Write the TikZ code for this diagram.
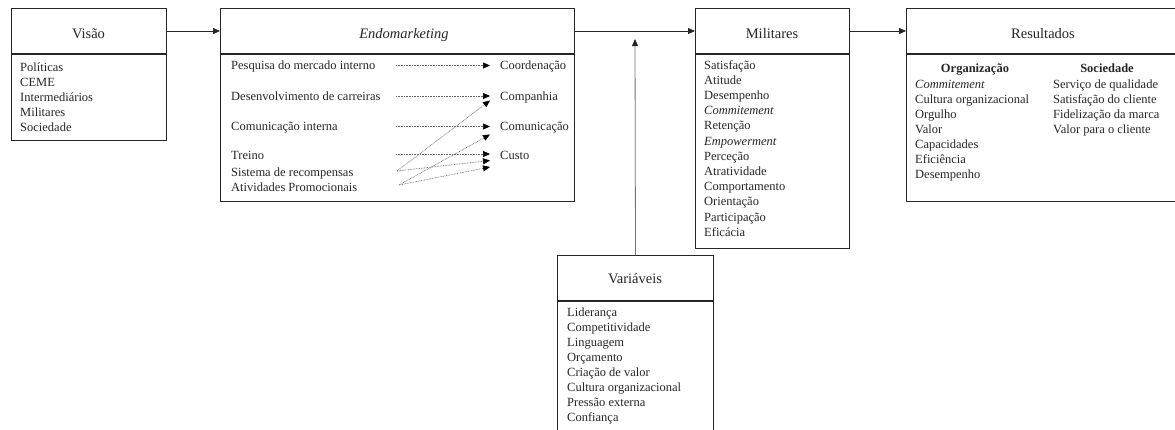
\documentclass[tikz,border=0pt]{standalone}
\usepackage{fontspec}
\setmainfont{Liberation Serif}
\usetikzlibrary{arrows.meta}
\tikzset{
  box/.style={draw=black!85, line width=1pt, fill=white, inner sep=0pt, anchor=north west},
  ttl/.style={font=\fontsize{14.5}{17}\selectfont, text=black!85, anchor=base},
  item/.style={font=\fontsize{12.5}{15}\selectfont, text=black!85, anchor=base west, inner sep=0pt},
  colhead/.style={font=\fontsize{12.5}{15}\selectfont\bfseries, text=black!85, anchor=base, inner sep=0pt},
  flow/.style={draw=black!85, line width=0.8pt, -{Triangle[length=7pt,width=6pt]}},
  vflow/.style={draw=black!55, line width=0.8pt, -{Triangle[length=7pt,width=6pt,fill=black!85,color=black!85]}},
  dot/.style={draw=black!60, line width=0.6pt, dash pattern=on 0.8pt off 0.8pt, -{Triangle[length=7pt,width=6pt,fill=black,color=black]}}
}
\begin{document}
\begin{tikzpicture}[x=1pt,y=-1pt]
\useasboundingbox (0,0) rectangle (1175,429);
\fill[white] (0,0) rectangle (1175,429);

% ---------- Visao ----------
\node[box, minimum width=155pt, minimum height=45pt] (visH) at (11,8) {};
\node[box, minimum width=155pt, minimum height=86pt] (visB) at (visH.south west) {};
\node[ttl] (visT) at (88.5,38) {Visão};
\foreach \t [count=\i] in {Políticas,CEME,Intermediários,Militares,Sociedade}
  \node[item] (vis\i) at (20,{71+(\i-1)*15}) {\t};

% ---------- Endomarketing ----------
\node[box, minimum width=354pt, minimum height=45pt] (endH) at (220,8) {};
\node[box, minimum width=354pt, minimum height=147pt] (endB) at (endH.south west) {};
\node[ttl] (endT) at (404,38) {\itshape Endomarketing};
\node[item] (eL1) at (231,69) {Pesquisa do mercado interno};
\node[item] (eL2) at (231,100) {Desenvolvimento de carreiras};
\node[item] (eL3) at (231,130) {Comunicação interna};
\node[item] (eL4) at (231,159) {Treino};
\node[item] (eL5) at (231,176) {Sistema de recompensas};
\node[item] (eL6) at (231,191) {Atividades Promocionais};
\node[item] (eR1) at (500,69) {Coordenação};
\node[item] (eR2) at (500,100) {Companhia};
\node[item] (eR3) at (500,130) {Comunicação};
\node[item] (eR4) at (500,159) {Custo};

\coordinate (s1) at (396,65.5);
\coordinate (s2) at (396,96);
\coordinate (s3) at (396,126.5);
\coordinate (s4) at (396,154);
\coordinate (s5) at (397,171);
\coordinate (s6) at (399,185);
\coordinate (t1) at (490,65.5);
\coordinate (t2) at (490,96);
\coordinate (t2b) at (490,100.5);
\coordinate (t3) at (490,126.5);
\coordinate (t3b) at (490,134.5);
\coordinate (t4) at (490,154);
\coordinate (t4b) at (490,160.5);
\coordinate (t4c) at (490,167);
\draw[dot] (s1) -- (t1);
\draw[dot] (s2) -- (t2);
\draw[dot] (s3) -- (t3);
\draw[dot] (s4) -- (t4);
\draw[dot] (s5) -- (t2b);
\draw[dot] (s5) -- (t4b);
\draw[dot] (s6) -- (t3b);
\draw[dot] (s6) -- (t4c);

% ---------- Militares ----------
\node[box, minimum width=154pt, minimum height=45pt] (milH) at (695,8) {};
\node[box, minimum width=154pt, minimum height=194pt] (milB) at (milH.south west) {};
\node[ttl] (milT) at (772,38) {Militares};
\foreach \t [count=\i] in {Satisfação,Atitude,Desempenho,\textit{Commitement},Retenção,\textit{Empowerment},Perceção,Atratividade,Comportamento,Orientação,Participação,Eficácia}
  \node[item] (mil\i) at (704,{69+(\i-1)*15.2}) {\t};

% ---------- Resultados ----------
\node[box, minimum width=280pt, minimum height=45pt] (resH) at (906,8) {};
\node[box, minimum width=280pt, minimum height=147pt] (resB) at (resH.south west) {};
\node[ttl] (resT) at (1043,38) {Resultados};
\node[colhead] (orgH) at (975,72) {Organização};
\node[colhead] (socH) at (1107,72) {Sociedade};
\foreach \t [count=\i] in {\textit{Commitement},Cultura organizacional,Orgulho,Valor,Capacidades,Eficiência,Desempenho}
  \node[item] (org\i) at (915,{88+(\i-1)*15}) {\t};
\foreach \t [count=\i] in {Serviço de qualidade,Satisfação do cliente,Fidelização da marca,Valor para o cliente}
  \node[item] (soc\i) at (1053,{88+(\i-1)*15.2}) {\t};

% ---------- Variaveis ----------
\node[box, minimum width=156pt, minimum height=45pt] (varH) at (557,255) {};
\node[box, minimum width=156pt, minimum height=150pt] (varB) at (varH.south west) {};
\node[ttl] (varT) at (635,283) {Variáveis};
\foreach \t [count=\i] in {Liderança,Competitividade,Linguagem,Orçamento,Criação de valor,Cultura organizacional,Pressão externa,Confiança}
  \node[item] (var\i) at (567,{316+(\i-1)*15.1}) {\t};

% ---------- main connectors ----------
\draw[flow] (visH.east) -- (endH.west);
\draw[flow] (endH.east) -- (milH.west);
\draw[flow] (milH.east) -- (resH.west);
\coordinate (vtop) at (635,39);
\draw[vflow] (varH.north) -- (vtop);
\end{tikzpicture}
\end{document}
